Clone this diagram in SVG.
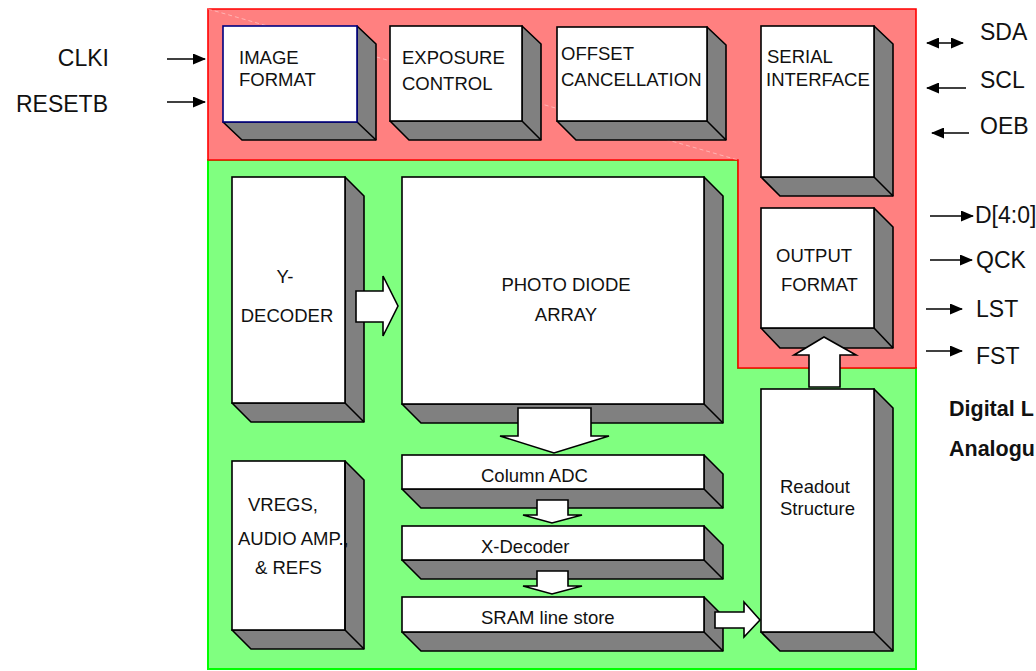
<svg xmlns="http://www.w3.org/2000/svg" width="1036" height="671" viewBox="0 0 1036 671">
<defs>
<marker id="ah" markerUnits="userSpaceOnUse" markerWidth="13" markerHeight="11" refX="12" refY="5.5" orient="auto-start-reverse"><path d="M0,0 L13,5.5 L0,11 Z" fill="#000"/></marker>
<style>
.front{fill:#fff;stroke:#000;stroke-width:1.6}
.shade{fill:#808080;stroke:#000;stroke-width:1.6;stroke-linejoin:round}
.edge{stroke:#000;stroke-width:1.6;fill:none}
.lbl{font-family:"Liberation Sans",Arial,sans-serif;font-size:18.5px;fill:#111}
.ext{font-family:"Liberation Sans",Arial,sans-serif;font-size:23px;fill:#111}
.bold{font-family:"Liberation Sans",Arial,sans-serif;font-size:21.5px;font-weight:bold;fill:#111}
.big{fill:#fff;stroke:#000;stroke-width:1.6;stroke-linejoin:miter}
.sig{stroke:#000;stroke-width:1.6;fill:none}
</style>
</defs>
<rect width="1036" height="671" fill="#fff"/>
<g id="analogue-region">
<polygon points="208,160 738,160 738,368 916,368 916,669 208,669" fill="#80FF80" stroke="#00FF00" stroke-width="2"/>
</g>
<g id="digital-region">
<polygon points="208,9 916,9 916,368 738,368 738,160 208,160" fill="#FF8080" stroke="#FF0000" stroke-width="1.6"/>
<line x1="208" y1="9" x2="738" y2="160" stroke="#fff" stroke-opacity="0.4" stroke-width="1" stroke-dasharray="4,3"/>
</g>

<g id="image-format">
<polygon class="shade" points="357,26 376,44 376,140 242,140 223,122 357,122"/><line class="edge" x1="357" y1="122" x2="376" y2="140"/>
<rect x="223" y="26" width="134" height="96" fill="#fff" stroke="#000080" stroke-width="1.6"/>
<text class="lbl" x="239" y="64">IMAGE</text><text class="lbl" x="239" y="86">FORMAT</text>
</g>
<g id="exposure-control">
<polygon class="shade" points="522,26 541,44 541,140 409,140 390,121 522,121"/><line class="edge" x1="522" y1="121" x2="541" y2="140"/>
<rect class="front" x="390" y="26" width="132" height="95"/>
<text class="lbl" x="402" y="64">EXPOSURE</text><text class="lbl" x="402" y="90">CONTROL</text>
</g>
<g id="offset-cancellation">
<polygon class="shade" points="707,27 726,45 726,140 576,140 557,121 707,121"/><line class="edge" x1="707" y1="121" x2="726" y2="140"/>
<rect class="front" x="557" y="27" width="150" height="94"/>
<text class="lbl" x="561" y="60">OFFSET</text><text class="lbl" x="561" y="86">CANCELLATION</text>
</g>
<g id="serial-interface">
<polygon class="shade" points="874,26 893,44 893,196 780,196 761,177 874,177"/><line class="edge" x1="874" y1="177" x2="893" y2="196"/>
<rect class="front" x="761" y="26" width="113" height="151"/>
<text class="lbl" x="767" y="63">SERIAL</text><text class="lbl" x="766" y="86">INTERFACE</text>
</g>
<g id="output-format">
<polygon class="shade" points="874,208 893,227 893,348 780,348 761,328 874,328"/><line class="edge" x1="874" y1="328" x2="893" y2="348"/>
<rect class="front" x="761" y="208" width="113" height="120"/>
<text class="lbl" x="776" y="262">OUTPUT</text><text class="lbl" x="781" y="291">FORMAT</text>
</g>
<g id="y-decoder">
<polygon class="shade" points="345,177 364,196 364,422 251,422 232,403 345,403"/><line class="edge" x1="345" y1="403" x2="364" y2="422"/>
<rect class="front" x="232" y="177" width="113" height="226"/>
<text class="lbl" x="285" y="283" text-anchor="middle">Y-</text><text class="lbl" x="287" y="322" text-anchor="middle">DECODER</text>
</g>
<g id="photo-diode-array">
<polygon class="shade" points="704,177 723,196 723,423 421,423 402,404 704,404"/><line class="edge" x1="704" y1="404" x2="723" y2="423"/>
<rect class="front" x="402" y="177" width="302" height="227"/>
<text class="lbl" x="566" y="291" text-anchor="middle">PHOTO DIODE</text><text class="lbl" x="566" y="321" text-anchor="middle">ARRAY</text>
</g>
<g id="column-adc">
<polygon class="shade" points="704,455 723,474 723,508 421,508 402,489 704,489"/><line class="edge" x1="704" y1="489" x2="723" y2="508"/>
<rect class="front" x="402" y="455" width="302" height="34"/>
<text class="lbl" x="481" y="482">Column ADC</text>
</g>
<g id="x-decoder">
<polygon class="shade" points="704,526 723,545 723,579 421,579 402,560 704,560"/><line class="edge" x1="704" y1="560" x2="723" y2="579"/>
<rect class="front" x="402" y="526" width="302" height="34"/>
<text class="lbl" x="481" y="553">X-Decoder</text>
</g>
<g id="sram-line-store">
<polygon class="shade" points="704,597 723,616 723,651 421,651 402,632 704,632"/><line class="edge" x1="704" y1="632" x2="723" y2="651"/>
<rect class="front" x="402" y="597" width="302" height="35"/>
<text class="lbl" x="481" y="624">SRAM line store</text>
</g>
<g id="vregs">
<polygon class="shade" points="345,461 364,480 364,649 251,649 232,630 345,630"/><line class="edge" x1="345" y1="630" x2="364" y2="649"/>
<rect class="front" x="232" y="461" width="113" height="169" fill="#fff"/>
<text class="lbl" x="248" y="511">VREGS,</text><text class="lbl" x="238" y="545">AUDIO AMP.,</text><text class="lbl" x="255" y="574">&amp; REFS</text>
<line class="edge" x1="345" y1="461" x2="345" y2="630"/>
</g>
<g id="readout-structure">
<polygon class="shade" points="874,389 893,408 893,651 780,651 761,632 874,632"/><line class="edge" x1="874" y1="632" x2="893" y2="651"/>
<rect class="front" x="761" y="389" width="113" height="243"/>
<text class="lbl" x="780" y="493">Readout</text><text class="lbl" x="780" y="515">Structure</text>
</g>

<g id="connectors">
<path class="big" d="M356,291 H383 V276 L398,306 L383,336 V322 H356 Z"/>
<path class="big" d="M518,408 H591 V436 H609 L554,453 L500,436 H518 Z"/>
<path class="big" d="M537,500 H568 V515 H582 L552,523 L523,515 H537 Z"/>
<path class="big" d="M537,571 H568 V586 H582 L552,594 L523,586 H537 Z"/>
<path class="big" d="M715,612 H744 V602 L760,620 L744,637 V628 H715 Z"/>
<path class="big" d="M809,387 V355 H794 L824,337 L856,355 H840 V387 Z"/>
<line class="sig" x1="167" y1="59" x2="205" y2="59" marker-end="url(#ah)"/>
<line class="sig" x1="167" y1="102" x2="205" y2="102" marker-end="url(#ah)"/>
<line class="sig" x1="927" y1="43" x2="963" y2="43" marker-start="url(#ah)" marker-end="url(#ah)"/>
<line class="sig" x1="966" y1="88" x2="927" y2="88" marker-end="url(#ah)"/>
<line class="sig" x1="969" y1="133" x2="932" y2="133" marker-end="url(#ah)"/>
<line class="sig" x1="930" y1="216" x2="973" y2="216" marker-end="url(#ah)"/>
<line class="sig" x1="930" y1="260" x2="972" y2="260" marker-end="url(#ah)"/>
<line class="sig" x1="926" y1="309" x2="962" y2="309" marker-end="url(#ah)"/>
<line class="sig" x1="926" y1="351" x2="962" y2="351" marker-end="url(#ah)"/>
</g>

<g id="labels">
<text class="ext" x="109" y="66" text-anchor="end">CLKI</text>
<text class="ext" x="108" y="112" text-anchor="end">RESETB</text>
<text class="ext" x="980" y="40">SDA</text>
<text class="ext" x="980" y="88">SCL</text>
<text class="ext" x="980" y="134">OEB</text>
<text class="ext" x="975" y="223">D[4:0]</text>
<text class="ext" x="976" y="268">QCK</text>
<text class="ext" x="976" y="317">LST</text>
<text class="ext" x="976" y="364">FST</text>
<text class="bold" x="949" y="416">Digital L</text>
<text class="bold" x="949" y="456">Analogu</text>
</g>
</svg>
